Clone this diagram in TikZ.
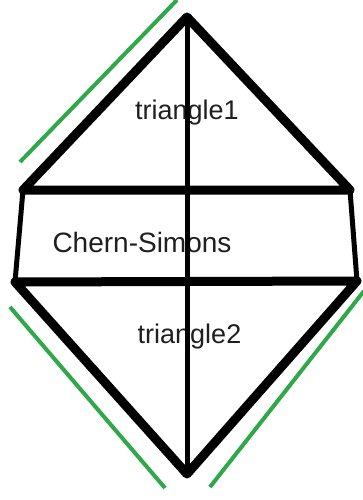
\documentclass[tikz,border=0pt]{standalone}
\usepackage{fontspec}
\setmainfont{Liberation Sans}
\begin{document}
\begin{tikzpicture}[x=1pt,y=-1pt,
  thickedge/.style={line width=9pt,line cap=round,line join=round,black},
  thinedge/.style={line width=5pt,line cap=round,black},
  greenline/.style={line width=4pt,draw={rgb,255:red,46;green,168;blue,72}},
  lbl/.style={text=black!88,inner sep=0pt,font=\fontsize{27}{30}\selectfont}]
\useasboundingbox[fill=white] (0,0) rectangle (362,500);
% vertices
\coordinate (T) at (187,17);
\coordinate (UL) at (23,190);
\coordinate (UR) at (350,190);
\coordinate (LL) at (15,282);
\coordinate (LR) at (357,281);
\coordinate (B) at (187,474);
% green lines
\coordinate (g1a) at (177,0);
\coordinate (g1b) at (20,162);
\coordinate (g2a) at (10,307);
\coordinate (g2b) at (165,488);
\coordinate (g3a) at (364,291);
\coordinate (g3b) at (210,487);
\draw[greenline] (g1a) -- (g1b);
\draw[greenline] (g2a) -- (g2b);
\draw[greenline] (g3a) -- (g3b);
% labels
\node[lbl] (t1) at (187,113) {triangle1};
\node[lbl,font=\fontsize{28}{30}\selectfont] (cs) at (142,242) {Chern-Simons};
\node[lbl] (t2) at (189.5,337) {triangle2};
% vertical
\draw[thinedge] (T) -- (B);
% middle band sides
\draw[thinedge] (UL) -- (LL);
\draw[thinedge] (UR) -- (LR);
% triangles
\draw[thickedge] (UL) -- (T) -- (UR) -- cycle;
\draw[thickedge] (LL) -- (B) -- (LR) -- cycle;
\end{tikzpicture}
\end{document}
